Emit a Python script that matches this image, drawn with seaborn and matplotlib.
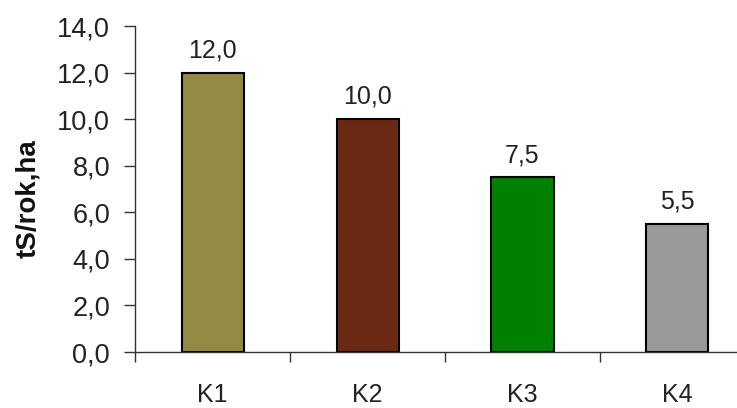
import matplotlib
matplotlib.use("Agg")
import matplotlib.pyplot as plt
from matplotlib.ticker import FuncFormatter, FixedLocator
import seaborn as sns
import pandas as pd

categories = ["K1", "K2", "K3", "K4"]
values = [12.0, 10.0, 7.5, 5.5]
colors = ["#938A42", "#6B2813", "#008000", "#999999"]
y_ticks = [0, 2, 4, 6, 8, 10, 12, 14]

sns.set_theme(style="white")
plt.rcParams["font.family"] = ["Liberation Sans", "DejaVu Sans"]


def comma(v):
    return f"{v:.1f}".replace(".", ",")


df = pd.DataFrame({"cat": categories, "val": values})

fig = plt.figure(figsize=(7.37, 4.08), dpi=100)
W, H = 737, 408
# the plot area runs past the right edge of the canvas
ax = fig.add_axes([135 / W, 56 / H, 620 / W, 326 / H])

sns.barplot(data=df, x="cat", y="val", hue="cat", palette=colors,
            width=0.4, edgecolor="black", linewidth=1.5, legend=False,
            saturation=1, ax=ax)

ax.set_xlim(-0.5, 3.5)
ax.set_ylim(0, 14)
ax.set_yticks(y_ticks)
ax.yaxis.set_major_formatter(FuncFormatter(lambda v, p: comma(v)))

for i, v in enumerate(values):
    ax.annotate(comma(v), (i, v), xytext=(0, 11),
                textcoords="offset points", ha="center", va="baseline",
                fontsize=18, color="#222222")

for s in ["top", "right"]:
    ax.spines[s].set_visible(False)
for s in ["left", "bottom"]:
    ax.spines[s].set_color("#333333")
    ax.spines[s].set_linewidth(1.0)

ax.xaxis.set_minor_locator(FixedLocator([-0.5, 0.5, 1.5, 2.5]))
ax.tick_params(axis="x", which="major", length=0, pad=22, labelsize=18, colors="#222222")
ax.tick_params(axis="x", which="minor", length=7, width=1, color="#333333", direction="out", bottom=True)
ax.tick_params(axis="y", which="major", length=8, width=1, color="#333333", direction="out",
               left=True, labelsize=19.5, labelcolor="#222222", pad=10)

ax.set_xlabel("")
ax.set_ylabel("tS/rok,ha", fontsize=20, fontweight="bold", color="#111111")
ax.yaxis.set_label_coords(-0.152, 0.47)

fig.savefig("out.png", dpi=100)
